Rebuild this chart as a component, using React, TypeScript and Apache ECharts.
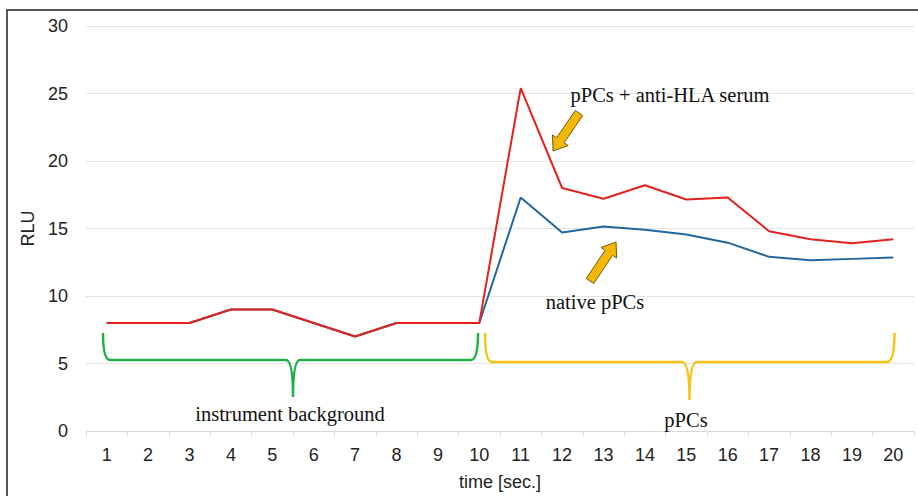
import React, { useEffect, useRef } from "react";
import * as echarts from "echarts";

const categories = ["1", "2", "3", "4", "5", "6", "7", "8", "9", "10", "11", "12", "13", "14", "15", "16", "17", "18", "19", "20"];
const serumValues = [8, 8, 8, 9, 9, 8, 7, 8, 8, 8, 25.4, 18.0, 17.2, 18.2, 17.15, 17.3, 14.8, 14.2, 13.9, 14.2];
const nativeValues = [8, 8, 8, 9, 9, 8, 7, 8, 8, 8, 17.3, 14.7, 15.15, 14.9, 14.55, 13.95, 12.9, 12.65, 12.75, 12.85];
const yTicks = { min: 0, max: 30, interval: 5 };

function arrowPoints(x1: number, y1: number, x2: number, y2: number) {
  const dx = x2 - x1, dy = y2 - y1;
  const len = Math.sqrt(dx * dx + dy * dy);
  const ux = dx / len, uy = dy / len;
  const nx = -uy, ny = ux;
  const w = 4.5, hw = 9.5, hl = 13;
  const kx = x2 - ux * hl, ky = y2 - uy * hl;
  return [
    [x1 + nx * w, y1 + ny * w],
    [kx + nx * w, ky + ny * w],
    [kx + nx * hw, ky + ny * hw],
    [x2, y2],
    [kx - nx * hw, ky - ny * hw],
    [kx - nx * w, ky - ny * w],
    [x1 - nx * w, y1 - ny * w],
  ];
}

let registered = false;
function registerBraces() {
  if (registered) return;
  registered = true;
  echarts.graphic.registerShape(
    "braceGreen",
    echarts.graphic.extendPath(
      "M103 333 Q103 360 110 360 L286 360 Q293 360 293 397 Q293 360 300 360 L471 360 Q478 360 478 333",
      {}
    )
  );
  echarts.graphic.registerShape(
    "braceYellow",
    echarts.graphic.extendPath(
      "M485 333 Q485 362 492 362 L682 362 Q689.5 362 689.5 400 Q689.5 362 697 362 L887 362 Q894.5 362 894.5 333",
      {}
    )
  );
}

export default function App() {
  const ref = useRef<HTMLDivElement>(null);
  useEffect(() => {
    if (!ref.current) return;
    registerBraces();
    const chart = echarts.init(ref.current, null, { renderer: "svg" });
    const serif = "'Liberation Serif', 'Times New Roman', serif";
    const sans = "'Liberation Sans', Arial, sans-serif";
    chart.setOption({
      animation: false,
      backgroundColor: "#ffffff",
      grid: { left: 86, right: 4, top: 26, bottom: 60, containLabel: false },
      xAxis: {
        type: "category",
        data: categories,
        boundaryGap: true,
        name: "time [sec.]",
        nameLocation: "middle",
        nameGap: 42,
        nameTextStyle: { fontFamily: sans, fontSize: 18, color: "#222" },
        axisLine: { lineStyle: { color: "#d9d9d9", width: 1 } },
        axisTick: { show: true, length: 5, lineStyle: { color: "#d9d9d9" } },
        axisLabel: { fontFamily: sans, fontSize: 18, color: "#222", margin: 15 },
        splitLine: { show: false },
      },
      yAxis: {
        type: "value",
        min: yTicks.min,
        max: yTicks.max,
        interval: yTicks.interval,
        name: "RLU",
        nameLocation: "middle",
        nameGap: 48,
        nameRotate: 90,
        nameTextStyle: { fontFamily: sans, fontSize: 18, color: "#222" },
        axisLine: { show: false },
        axisTick: { show: false },
        axisLabel: { fontFamily: sans, fontSize: 18, color: "#222", margin: 18 },
        splitLine: { lineStyle: { color: "#e3e3e3", width: 1 } },
      },
      series: [
        {
          name: "native pPCs",
          type: "line",
          data: nativeValues,
          symbol: "none",
          lineStyle: { color: "#2266a0", width: 2 },
          z: 2,
        },
        {
          name: "pPCs + anti-HLA serum",
          type: "line",
          data: serumValues,
          symbol: "none",
          lineStyle: { color: "#e3211d", width: 2 },
          z: 3,
        },
      ],
      graphic: [
        {
          type: "polyline",
          shape: { points: [[7, 600], [7, 10], [1000, 10]] },
          style: { stroke: "#555", lineWidth: 2, fill: "none" },
          z: 10,
        },
        {
          type: "braceGreen",
          x: 0,
          y: 0,
          style: { stroke: "#22b04b", lineWidth: 2.5, fill: "none" },
          z: 10,
        },
        {
          type: "braceYellow",
          x: 0,
          y: 0,
          style: { stroke: "#f7c21a", lineWidth: 2.5, fill: "none" },
          z: 10,
        },
        {
          type: "polygon",
          shape: { points: arrowPoints(579, 113, 553, 151) },
          style: { fill: "#f5b800", stroke: "#6b5c1c", lineWidth: 1 },
          z: 10,
        },
        {
          type: "polygon",
          shape: { points: arrowPoints(590, 281, 616, 242) },
          style: { fill: "#f5b800", stroke: "#6b5c1c", lineWidth: 1 },
          z: 10,
        },
        {
          type: "text",
          x: 670,
          y: 95,
          style: { text: "pPCs + anti-HLA serum", fontFamily: serif, fontSize: 20.5, fill: "#111", align: "center", verticalAlign: "middle" },
          z: 10,
        },
        {
          type: "text",
          x: 595,
          y: 302,
          style: { text: "native pPCs", fontFamily: serif, fontSize: 20.5, fill: "#111", align: "center", verticalAlign: "middle" },
          z: 10,
        },
        {
          type: "text",
          x: 290,
          y: 414,
          style: { text: "instrument background", fontFamily: serif, fontSize: 20.5, fill: "#111", align: "center", verticalAlign: "middle" },
          z: 10,
        },
        {
          type: "text",
          x: 686,
          y: 420,
          style: { text: "pPCs", fontFamily: serif, fontSize: 20.5, fill: "#111", align: "center", verticalAlign: "middle" },
          z: 10,
        },
      ],
    });
    return () => chart.dispose();
  }, []);
  return <div ref={ref} style={{ position: "fixed", left: 0, top: 0, width: 918, height: 496 }} />;
}
